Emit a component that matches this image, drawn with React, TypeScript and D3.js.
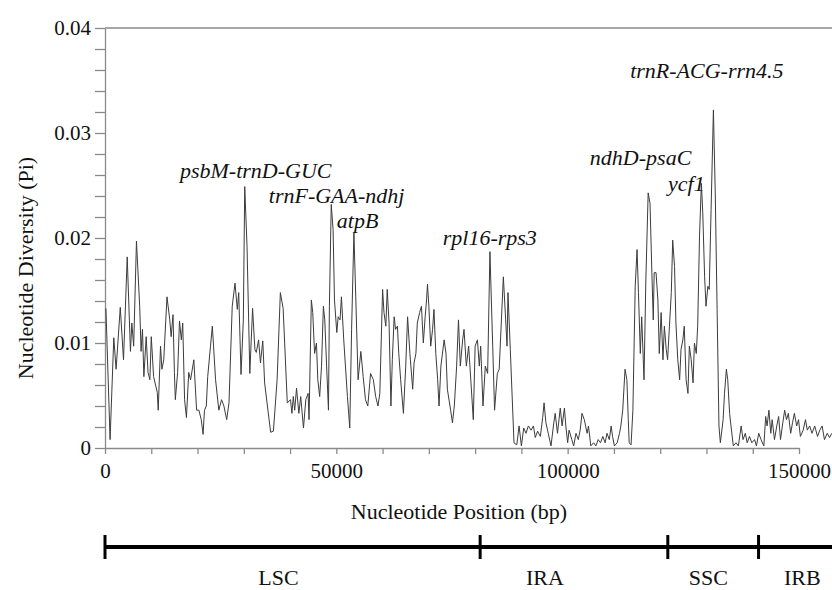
import React, { useEffect, useRef } from "react";
import * as d3 from "d3";

// sliding window midpoints (bp) and nucleotide diversity (Pi)
const positions = [
  200, 1100, 1900, 2400, 3300, 4000, 4800, 5500, 5800, 6200, 6800, 7500, 7800, 8100, 8400, 8900, 9300, 9700,
  10000, 10500, 11300, 11500, 12000, 12300, 12700, 13400, 14000, 14300, 14700, 15000, 15200, 15700, 16100,
  16500, 16800, 17200, 17600, 18100, 18500, 19200, 19800, 20300, 20800, 21200, 21500, 21900, 22200, 22800,
  23200, 23900, 24600, 25200, 25700, 26300, 26800, 27500, 28100, 28600, 28900, 29400, 29900, 30200, 30700,
  31300, 31900, 32400, 32700, 33200, 33600, 34100, 34500, 35800, 36400, 37200, 37900, 38500, 39400, 40100,
  40400, 40700, 41000, 41400, 41900, 42300, 42900, 43400, 43900, 44100, 44600, 44900, 45300, 45700, 46000,
  46400, 46800, 47200, 47500, 47900, 48300, 48500, 48900, 49300, 49600, 50100, 50400, 50800, 51100, 51600,
  52400, 52900, 53300, 53800, 54200, 54700, 55300, 55800, 56300, 56800, 57400, 58000, 58500, 59000, 59400,
  60000, 60300, 60700, 61000, 61400, 61800, 62100, 62500, 62800, 63200, 63500, 63900, 64500, 65000, 65400,
  65900, 66500, 66800, 67200, 67500, 68000, 68400, 68800, 69200, 69500, 69700, 70000, 70400, 70800, 71100,
  71500, 71900, 72200, 72600, 73300, 73700, 74000, 74700, 75100, 75500, 76000, 76400, 76800, 77300, 77600,
  78100, 78600, 79100, 79600, 80000, 80500, 80900, 81200, 81700, 82200, 82700, 83200, 83800, 84200, 84800,
  85200, 86100, 86600, 86900, 87100, 87600, 88400, 89000, 89500, 90000, 90500, 91000, 91500, 92100, 92600,
  93000, 93500, 94100, 94600, 94900, 95300, 95800, 96400, 97000, 97300, 97800, 98400, 98800, 99300, 99600,
  100000, 100300, 100900, 101300, 101800, 102300, 102700, 103100, 103600, 104200, 104500, 105000, 105600,
  106100, 106600, 107100, 107600, 108100, 108500, 109000, 109400, 109700, 110100, 110700, 111200, 111500,
  111900, 112400, 112800, 113100, 113300, 113700, 114100, 114600, 115000, 115300, 115700, 116000, 116500,
  116900, 117400, 117800, 118200, 118500, 118700, 119100, 119500, 119800, 120200, 120600, 120900, 121300,
  121600, 122000, 122400, 122700, 123100, 123400, 123800, 124200, 124500, 124900, 125200, 125600, 126000,
  126300, 126700, 127100, 127400, 127800, 128100, 128500, 128900, 129200, 129600, 129900, 130300, 130600,
  131000, 131500, 131900, 132300, 132700, 133000, 133600, 133900, 134300, 134600, 135000, 135300, 135800,
  136400, 136900, 137500, 137900, 138400, 138800, 139300, 139800, 140400, 140800, 141300, 141800, 142400,
  142800, 143100, 143500, 143900, 144200, 144700, 145200, 145600, 146000, 146500, 146900, 147300, 147700,
  148200, 148600, 149000, 149500, 149900, 150300, 150900, 151400, 151800, 152300, 152800, 153400, 154000,
  154500, 155000, 155500, 156100, 156600, 157100,
];

const piValues = [
  0.0133, 0.0008, 0.0105, 0.0075, 0.0134, 0.0084, 0.0182, 0.0092, 0.0119, 0.0097, 0.0197, 0.0135, 0.0092, 0.0113, 0.0068, 0.0106, 0.0072, 0.0065,
  0.0106, 0.0068, 0.0053, 0.0036, 0.0097, 0.0075, 0.0084, 0.0144, 0.0122, 0.0106, 0.0127, 0.0072, 0.0046, 0.0072, 0.0121,
  0.0103, 0.0119, 0.0046, 0.0029, 0.0072, 0.0065, 0.0084, 0.0036, 0.0036, 0.0027, 0.0013, 0.0036, 0.004, 0.0068, 0.0097,
  0.0116, 0.0065, 0.0036, 0.0046, 0.004, 0.0027, 0.0043, 0.0135, 0.0157, 0.0132, 0.0148, 0.007, 0.0122, 0.0249, 0.0192,
  0.0071, 0.0133, 0.0094, 0.0091, 0.0103, 0.0081, 0.0102, 0.0062, 0.0015, 0.0016, 0.0065, 0.0148, 0.0133, 0.0043, 0.0046,
  0.0033, 0.0049, 0.0036, 0.0057, 0.0033, 0.0049, 0.0019, 0.0046, 0.0052, 0.0027, 0.0141, 0.0129, 0.009, 0.01, 0.0065,
  0.0049, 0.0078, 0.0135, 0.0122, 0.0078, 0.0036, 0.0135, 0.0232, 0.0208, 0.0141, 0.011, 0.0125, 0.0122, 0.0144, 0.0103,
  0.0049, 0.0019, 0.0113, 0.0205, 0.0144, 0.0065, 0.0092, 0.0068, 0.0046, 0.004, 0.0071, 0.0065, 0.0049, 0.004, 0.0052,
  0.0151, 0.0129, 0.0116, 0.0151, 0.0119, 0.004, 0.0084, 0.0125, 0.0113, 0.0116, 0.009, 0.0065, 0.0033, 0.0078, 0.0125,
  0.009, 0.0056, 0.0081, 0.009, 0.0119, 0.0129, 0.0135, 0.01, 0.0125, 0.0141, 0.0156, 0.0135, 0.0097, 0.0113, 0.0132,
  0.009, 0.0065, 0.004, 0.0078, 0.0103, 0.009, 0.0056, 0.0036, 0.0024, 0.004, 0.0078, 0.0122, 0.0078, 0.0103, 0.0113,
  0.0078, 0.0097, 0.0062, 0.0027, 0.0097, 0.0103, 0.0078, 0.0097, 0.004, 0.0078, 0.0071, 0.0187, 0.0097, 0.0036, 0.0071,
  0.0075, 0.0163, 0.0122, 0.0097, 0.0148, 0.0094, 0.0005, 0.0003, 0.0021, 0.0002, 0.0019, 0.0014, 0.0021, 0.0017, 0.0021,
  0.001, 0.0016, 0.0011, 0.0029, 0.0043, 0.0024, 0.0014, 0.0002, 0.0024, 0.0033, 0.0014, 0.0038, 0.0021, 0.0038, 0.0021,
  0.0005, 0.0017, 0.0008, 0.0002, 0.0014, 0.0008, 0.0017, 0.0033, 0.0027, 0.0014, 0.0021, 0.0002, 0.0005,
  0.0002, 0.0008, 0.0005, 0.0011, 0.0005, 0.0014, 0.0008, 0.0021, 0.0011, 0.0002, 0.0005, 0.0014, 0.0021,
  0.0036, 0.0075, 0.0065, 0.0027, 0.0005, 0.0003, 0.0036, 0.0154, 0.0189, 0.0148, 0.009, 0.0125, 0.0065,
  0.016, 0.0243, 0.0233, 0.0167, 0.0122, 0.0167, 0.0167, 0.0141, 0.009, 0.0129, 0.0084, 0.0116, 0.0094,
  0.0084, 0.0116, 0.0148, 0.0198, 0.0173, 0.0119, 0.0084, 0.0065, 0.0094, 0.0103, 0.0116, 0.0065, 0.0052,
  0.0097, 0.0084, 0.0062, 0.01, 0.009, 0.0116, 0.0202, 0.0252, 0.0224, 0.0163, 0.0135, 0.0154, 0.0151,
  0.0227, 0.0322, 0.0243, 0.0132, 0.0021, 0.0005, 0.0027, 0.0052, 0.0075, 0.0065, 0.0033, 0.0021, 0.0002,
  0.0005, 0.0002, 0.0021, 0.0008, 0.0014, 0.0005, 0.0011, 0.0005, 0.0008, 0.0002, 0.0014, 0.0008, 0.0002,
  0.003, 0.0021, 0.0036, 0.0014, 0.0027, 0.0008, 0.0021, 0.003, 0.0008, 0.0024, 0.0036, 0.0027, 0.0033,
  0.0014, 0.0024, 0.0033, 0.0021, 0.0027, 0.0011, 0.0017, 0.0027, 0.0017, 0.0021, 0.0014, 0.0021, 0.0011,
  0.0017, 0.0021, 0.0008, 0.0014, 0.001, 0.0014,
];

// highly variable regions
const hotspotNames = ["psbM-trnD-GUC", "trnF-GAA-ndhj", "atpB", "rpl16-rps3", "ndhD-psaC", "ycf1", "trnR-ACG-rrn4.5"];
const hotspotLabelBp = [16200, 35400, 50100, 73000, 104800, 121700, 113500];
const hotspotLabelPi = [0.0257, 0.0233, 0.021, 0.0193, 0.027, 0.0245, 0.0352];

// quadripartite structure
const regionNames = ["LSC", "IRA", "SSC", "IRB"];
const regionStarts = [0, 81082, 121645, 141255];
const regionLabelBp = [37500, 95100, 130400, 150700];

const yMajorTicks = ["0", "0.01", "0.02", "0.03", "0.04"];
const xTickLabels = ["0", "50000", "100000", "150000"];

const FONT = "Liberation Serif, Times New Roman, serif";

const App = () => {
  const ref = useRef<SVGSVGElement | null>(null);

  useEffect(() => {
    const width = 832;
    const height = 590;
    const svg = d3.select(ref.current);
    svg.selectAll("*").remove();
    svg.attr("width", width).attr("height", height).attr("font-family", FONT);

    const x = d3.scaleLinear().domain([0, 150000]).range([105, 799]);
    const y = d3.scaleLinear().domain([0, 0.04]).range([448, 28]);

    const axisColor = "#8a8a8a";

    // top frame line
    svg
      .append("line")
      .attr("x1", x(0))
      .attr("x2", width)
      .attr("y1", y(0.04))
      .attr("y2", y(0.04))
      .attr("stroke", axisColor)
      .attr("stroke-width", 1.3);

    // y axis
    const yTicks = d3.range(21).map((i) => i * 0.002);
    const yAxis = svg
      .append("g")
      .attr("transform", `translate(${x(0)},0)`)
      .call(
        d3
          .axisLeft(y)
          .tickValues(yTicks)
          .tickSize(10)
          .tickSizeOuter(0)
          .tickPadding(4)
          .tickFormat((d, i) => (i % 5 === 0 ? yMajorTicks[i / 5] : ""))
      );
    yAxis.attr("font-family", FONT).attr("font-size", 21);
    yAxis.select(".domain").attr("stroke", axisColor).attr("stroke-width", 1.3);
    yAxis.selectAll(".tick line").attr("stroke", axisColor).attr("stroke-width", 1.3);
    yAxis.selectAll(".tick text").attr("fill", "#111");

    // x axis
    const xTicks = d3.range(0, 170001, 10000);
    const xAxis = svg
      .append("g")
      .attr("transform", `translate(0,${y(0)})`)
      .call(
        d3
          .axisBottom(x)
          .tickValues(xTicks)
          .tickSize(6)
          .tickSizeOuter(0)
          .tickPadding(9)
          .tickFormat((d, i) => (i % 5 === 0 ? xTickLabels[i / 5] || "" : ""))
      );
    xAxis.attr("font-family", FONT).attr("font-size", 21);
    xAxis.select(".domain").attr("stroke", axisColor).attr("stroke-width", 1.3);
    xAxis.selectAll(".tick line").attr("stroke", axisColor).attr("stroke-width", 1.3);
    xAxis.selectAll(".tick text").attr("fill", "#111");

    // diversity line
    const points = positions.map((p, i) => [p, piValues[i]] as [number, number]);
    const line = d3
      .line<[number, number]>()
      .x((d) => x(d[0]))
      .y((d) => y(d[1]));
    svg
      .append("path")
      .datum(points)
      .attr("d", line)
      .attr("fill", "none")
      .attr("stroke", "#3c3c3c")
      .attr("stroke-width", 1)
      .attr("stroke-linejoin", "round");

    // hotspot labels
    svg
      .selectAll("text.hotspot")
      .data(hotspotNames)
      .enter()
      .append("text")
      .attr("class", "hotspot")
      .attr("x", (d, i) => x(hotspotLabelBp[i]))
      .attr("y", (d, i) => y(hotspotLabelPi[i]))
      .attr("font-style", "italic")
      .attr("font-size", 22)
      .attr("fill", "#111")
      .text((d) => d);

    // axis titles
    svg
      .append("text")
      .attr("transform", "translate(33,268) rotate(-90)")
      .attr("text-anchor", "middle")
      .attr("font-size", 22)
      .attr("fill", "#111")
      .text("Nucleotide Diversity (Pi)");

    svg
      .append("text")
      .attr("x", 459)
      .attr("y", 519)
      .attr("text-anchor", "middle")
      .attr("font-size", 22)
      .attr("fill", "#111")
      .text("Nucleotide Position (bp)");

    // region bar
    const barY = 547;
    svg
      .append("line")
      .attr("x1", x(0))
      .attr("x2", width)
      .attr("y1", barY)
      .attr("y2", barY)
      .attr("stroke", "#000")
      .attr("stroke-width", 4);

    svg
      .selectAll("line.region")
      .data(regionStarts)
      .enter()
      .append("line")
      .attr("class", "region")
      .attr("x1", (d) => x(d))
      .attr("x2", (d) => x(d))
      .attr("y1", barY - 12)
      .attr("y2", barY + 12)
      .attr("stroke", "#000")
      .attr("stroke-width", 3);

    svg
      .selectAll("text.region")
      .data(regionNames)
      .enter()
      .append("text")
      .attr("class", "region")
      .attr("x", (d, i) => x(regionLabelBp[i]))
      .attr("y", 585)
      .attr("text-anchor", "middle")
      .attr("font-size", 22)
      .attr("fill", "#111")
      .text((d) => d);
  }, []);

  return (
    <svg
      ref={ref}
      style={{ position: "absolute", left: 0, top: 0, background: "#fff" }}
    ></svg>
  );
};

export default App;
